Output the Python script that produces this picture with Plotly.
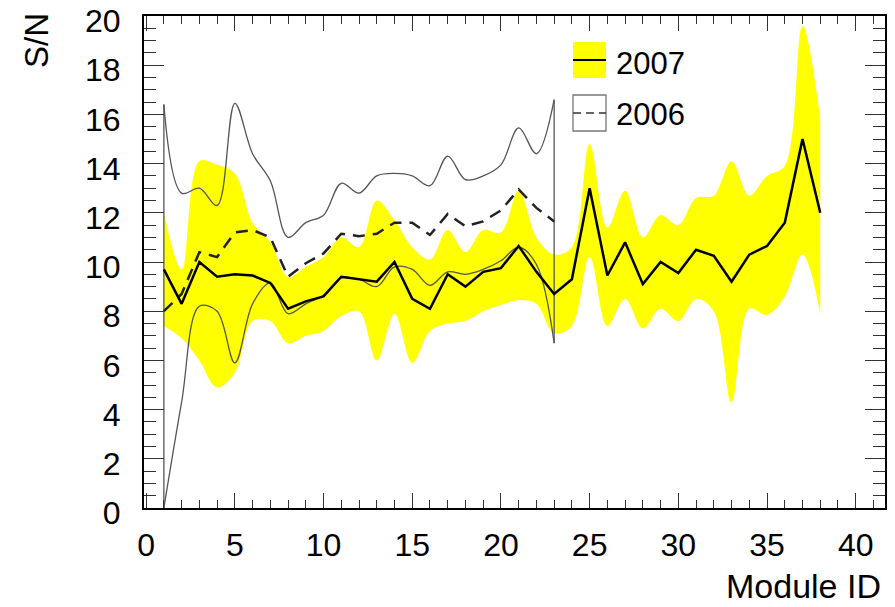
import plotly.graph_objects as go

# ---------------- data ----------------
modules = list(range(1, 39))
mean_2007 = [9.7, 8.3, 10.0, 9.4, 9.5, 9.45, 9.15, 8.1, 8.4, 8.6, 9.4, 9.3, 9.2, 10.0, 8.5,
             8.1, 9.5, 9.0, 9.6, 9.75, 10.65, 9.6, 8.7, 9.3, 13.0, 9.45, 10.8, 9.1, 10.0,
             9.55, 10.5, 10.25, 9.2, 10.3, 10.65, 11.6, 15.0, 12.0]
upper_2007 = [12.0, 9.7, 14.1, 13.95, 13.6, 11.6, 10.8, 9.4, 9.8, 10.2, 11.0, 10.6, 12.5,
              11.7, 10.6, 10.1, 11.3, 10.4, 11.3, 11.2, 12.9, 11.0, 10.3, 10.6, 14.8, 11.4,
              12.9, 11.0, 11.9, 11.5, 12.6, 12.7, 14.1, 12.7, 13.5, 13.9, 19.6, 15.8]
lower_2007 = [7.4, 6.9, 6.0, 4.9, 5.5, 7.6, 7.6, 6.7, 7.0, 7.2, 7.8, 8.0, 6.0, 7.9, 5.9,
              7.2, 7.5, 7.6, 8.0, 8.25, 8.45, 8.3, 7.1, 7.4, 10.2, 7.4, 8.5, 7.3, 8.1, 7.6,
              8.5, 8.0, 4.3, 8.1, 7.85, 8.6, 10.3, 7.9]

modules_2006 = list(range(1, 24))
mean_2006 = [8.0, 8.7, 10.4, 10.2, 11.2, 11.3, 11.0, 9.4, 9.95, 10.35, 11.15, 11.05, 11.15,
             11.6, 11.6, 11.1, 11.95, 11.45, 11.65, 12.1, 12.95, 12.2, 11.65]
upper_2006 = [16.4, 12.8, 13.0, 12.3, 16.45, 14.4, 13.3, 11.0, 11.6, 11.9, 13.2, 12.8, 13.5,
              13.6, 13.5, 13.1, 14.3, 13.35, 13.5, 13.95, 15.45, 14.4, 16.6]
lower_2006 = [0.0, 4.3, 8.2, 8.0, 5.9, 8.3, 9.15, 7.9, 8.3, 8.65, 9.35, 9.3, 9.0, 9.8, 9.7,
              9.05, 9.6, 9.5, 9.7, 10.05, 10.6, 9.9, 6.7]

x_ticks = [0, 5, 10, 15, 20, 25, 30, 35, 40]
y_ticks = [0, 2, 4, 6, 8, 10, 12, 14, 16, 18, 20]

FONT = "Liberation Sans, Arial, Helvetica, sans-serif"
YELLOW = "#FFFF00"
GRAY = "#555555"

fig = go.Figure()

# 2007 band (yellow, smoothed)
fig.add_trace(go.Scatter(x=modules, y=lower_2007, mode="lines",
                         line=dict(width=0, shape="spline", smoothing=1.0),
                         hoverinfo="skip", showlegend=False))
fig.add_trace(go.Scatter(x=modules, y=upper_2007, mode="lines", fill="tonexty",
                         fillcolor=YELLOW,
                         line=dict(width=0, shape="spline", smoothing=1.0),
                         hoverinfo="skip", showlegend=False))

# 2006 band outline (thin gray, smoothed)
fig.add_trace(go.Scatter(x=modules_2006, y=upper_2006, mode="lines",
                         line=dict(width=1.3, color=GRAY, shape="spline", smoothing=1.0),
                         hoverinfo="skip", showlegend=False))
fig.add_trace(go.Scatter(x=modules_2006, y=lower_2006, mode="lines",
                         line=dict(width=1.3, color=GRAY, shape="spline", smoothing=1.0),
                         hoverinfo="skip", showlegend=False))
fig.add_trace(go.Scatter(x=[modules_2006[0], modules_2006[0]],
                         y=[lower_2006[0], upper_2006[0]], mode="lines",
                         line=dict(width=1.3, color=GRAY),
                         hoverinfo="skip", showlegend=False))
fig.add_trace(go.Scatter(x=[modules_2006[-1], modules_2006[-1]],
                         y=[lower_2006[-1], upper_2006[-1]], mode="lines",
                         line=dict(width=1.3, color=GRAY),
                         hoverinfo="skip", showlegend=False))

# 2006 mean (dashed)
fig.add_trace(go.Scatter(x=modules_2006, y=mean_2006, mode="lines",
                         line=dict(width=2.5, color="#222222", dash="12px,8px"),
                         hoverinfo="skip", showlegend=False))

# 2007 mean (solid)
fig.add_trace(go.Scatter(x=modules, y=mean_2007, mode="lines",
                         line=dict(width=2.5, color="black"),
                         hoverinfo="skip", showlegend=False))

# ---------------- layout ----------------
L, R, T, B = 144, 885, 16, 508
W, H = 895, 607


def px(xp):
    return (xp - L) / (R - L)


def py(yp):
    return (B - yp) / (B - T)


shapes = [
    # legend entry 2007
    dict(type="rect", xref="paper", yref="paper", x0=px(573), x1=px(606), y0=py(78), y1=py(42),
         fillcolor=YELLOW, line=dict(width=0)),
    dict(type="line", xref="paper", yref="paper", x0=px(573), x1=px(606), y0=py(60), y1=py(60),
         line=dict(color="black", width=2)),
    # legend entry 2006
    dict(type="rect", xref="paper", yref="paper", x0=px(573), x1=px(606), y0=py(131), y1=py(95),
         fillcolor="white", line=dict(color="#777777", width=1.3)),
    dict(type="line", xref="paper", yref="paper", x0=px(573), x1=px(606), y0=py(113), y1=py(113),
         line=dict(color="#333333", width=1.5, dash="8px,5px")),
]

annotations = [
    dict(text="2007", xref="paper", yref="paper", x=px(614), y=py(63), xanchor="left",
         yanchor="middle", showarrow=False, font=dict(family=FONT, size=31, color="black")),
    dict(text="2006", xref="paper", yref="paper", x=px(614), y=py(115), xanchor="left",
         yanchor="middle", showarrow=False, font=dict(family=FONT, size=31, color="black")),
    dict(text="S/N", xref="paper", yref="paper", x=px(37), y=py(41), xanchor="center",
         yanchor="middle", textangle=-90, showarrow=False,
         font=dict(family=FONT, size=33, color="black")),
    dict(text="Module ID", xref="paper", yref="paper", x=px(883), y=py(586), xanchor="right",
         yanchor="middle", showarrow=False, font=dict(family=FONT, size=34, color="black")),
]

fig.update_layout(
    width=W, height=H,
    margin=dict(l=L, r=W - R, t=T, b=H - B, pad=0, autoexpand=False),
    paper_bgcolor="white", plot_bgcolor="white",
    showlegend=False,
    shapes=shapes,
    annotations=annotations,
    font=dict(family=FONT, size=32, color="black"),
    xaxis=dict(range=[-0.12, 41.65], tickvals=x_ticks, ticktext=[str(v) for v in x_ticks],
               ticks="inside", ticklen=15, tickwidth=1.2, tickcolor="#333333",
               minor=dict(dtick=1, tick0=0, ticks="inside", ticklen=8, tickwidth=1,
                          tickcolor="#333333"),
               showline=True, linecolor="black", linewidth=2, mirror="allticks",
               showgrid=False, zeroline=False, ticklabelstandoff=8,
               ticklabeloverflow="allow", automargin=False,
               tickfont=dict(family=FONT, size=32, color="black")),
    yaxis=dict(range=[0, 20], tickvals=y_ticks, ticktext=[str(v) for v in y_ticks],
               ticks="inside", ticklen=20, tickwidth=1.2, tickcolor="#333333",
               minor=dict(dtick=0.5, tick0=0, ticks="inside", ticklen=12, tickwidth=1,
                          tickcolor="#333333"),
               showline=True, linecolor="black", linewidth=2, mirror="allticks",
               showgrid=False, zeroline=False, ticklabelstandoff=15, ticklabelshift=5,
               ticklabeloverflow="allow", automargin=False,
               tickfont=dict(family=FONT, size=32, color="black")),
)

fig.write_html("out.html")
